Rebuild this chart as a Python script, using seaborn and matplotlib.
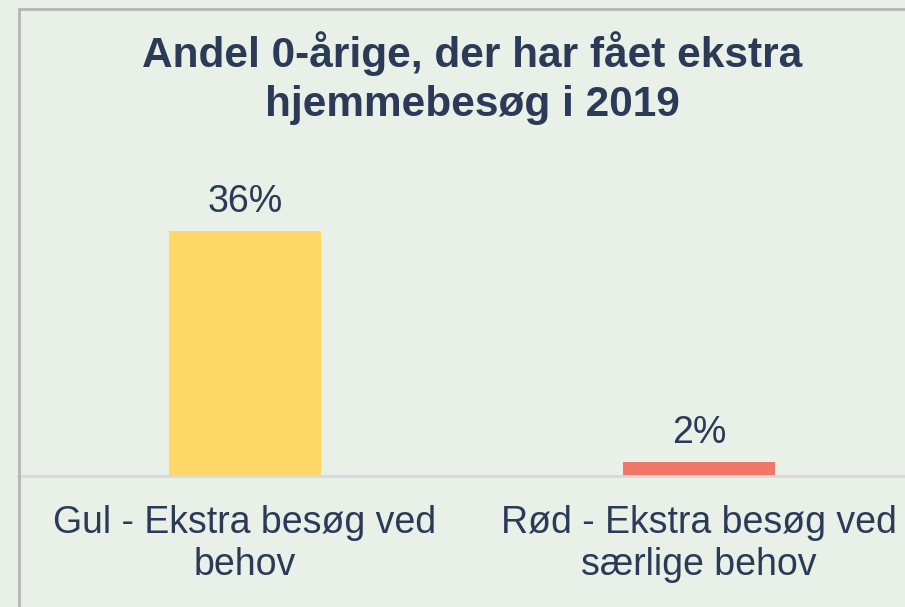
import matplotlib
matplotlib.use("Agg")
import matplotlib.pyplot as plt
import seaborn as sns
import pandas as pd
from matplotlib.patches import Rectangle

categories = ["Gul - Ekstra besøg ved\nbehov", "Rød - Ekstra besøg ved\nsærlige behov"]
values = [36, 2]
value_labels = ["36%", "2%"]
bar_colors = ["#FED866", "#F07668"]
title = "Andel 0-årige, der har fået ekstra\nhjemmebesøg i 2019"

BG = "#E9F0E8"
TXT = "#2B3A57"

sns.set_theme(style="white")
plt.rcParams['font.family'] = ['Liberation Sans', 'DejaVu Sans']

W, H = 905, 607
fig = plt.figure(figsize=(W / 100, H / 100), dpi=100)
fig.patch.set_facecolor(BG)

# frame border (extends beyond the visible area on right/bottom)
fig.patches.append(Rectangle((18.5 / W, -0.1), 1.2, 1 - 8.5 / H + 0.1,
                             transform=fig.transFigure, fill=False,
                             edgecolor="#B5B5B5", linewidth=2, zorder=0))

# axes geometry
x0, x1 = 18, 926
ybase = 476
px_per_unit = 245 / 36.0
ymax = 40
ytop = ybase - ymax * px_per_unit
ax = fig.add_axes([x0 / W, (H - ybase) / H, (x1 - x0) / W, (ybase - ytop) / H])
ax.set_facecolor("none")

df = pd.DataFrame({"cat": categories, "val": values})
sns.barplot(data=df, x="cat", y="val", hue="cat", palette=bar_colors,
            width=0.335, ax=ax, legend=False, saturation=1, linewidth=0,
            edgecolor="none")

ax.set_xlim(-0.5, 1.5)
ax.set_ylim(0, ymax)
ax.set_xlabel("")
ax.set_ylabel("")
ax.set_yticks([])
for s in ["top", "right", "left"]:
    ax.spines[s].set_visible(False)
ax.spines["bottom"].set_color("#D9D9D9")
ax.spines["bottom"].set_linewidth(2)

ax.tick_params(axis="x", length=0, pad=21, labelsize=27, labelcolor=TXT)
for lab in ax.get_xticklabels():
    lab.set_linespacing(1.22)

for i, (v, lab) in enumerate(zip(values, value_labels)):
    ax.annotate(lab, xy=(i, v), xytext=(0, 19 * 0.72), textcoords="offset points",
                ha="center", va="baseline", fontsize=27, color=TXT)

fig.text(472 / W, 1 - 31 / H, title, ha="center", va="top", fontsize=30.5,
         fontweight="bold", color=TXT, linespacing=1.3)

fig.savefig("out.png", dpi=100, facecolor=BG)
